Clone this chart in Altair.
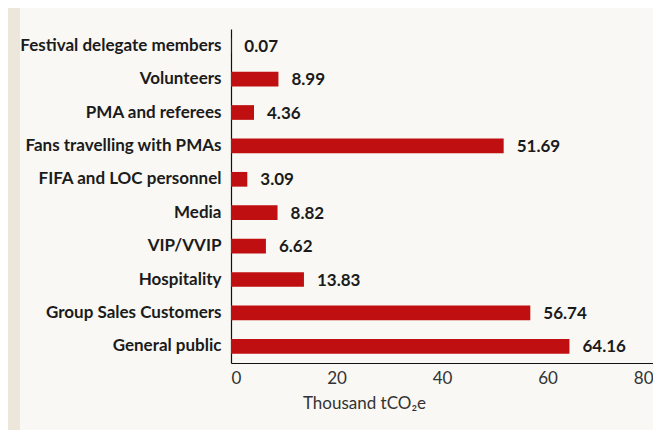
import altair as alt
import pandas as pd

categories = [
    "Festival delegate members",
    "Volunteers",
    "PMA and referees",
    "Fans travelling with PMAs",
    "FIFA and LOC personnel",
    "Media",
    "VIP/VVIP",
    "Hospitality",
    "Group Sales Customers",
    "General public",
]
values = [0.07, 8.99, 4.36, 51.69, 3.09, 8.82, 6.62, 13.83, 56.74, 64.16]
labels = [f"{v:.2f}" for v in values]
x_ticks = [0, 20, 40, 60, 80]

df = pd.DataFrame({"cat": categories, "val": values, "lab": labels})

FONT = "Lato"
RED = "#c00f10"
TXT = "#1b1b1b"

y_enc = alt.Y("cat:N", sort=categories, title=None,
              scale=alt.Scale(paddingInner=0.56, paddingOuter=0.28),
              axis=alt.Axis(labelFont=FONT, labelFontSize=17, labelFontWeight="bold",
                            labelColor=TXT, labelPadding=10, ticks=False,
                            domainColor="#111111", domainWidth=1.2, labelLimit=400))

bars = alt.Chart(df).mark_bar(color=RED).encode(
    x=alt.X("val:Q", scale=alt.Scale(domain=[0, 80], nice=False),
            title="Thousand tCO₂e",
            axis=alt.Axis(values=x_ticks, grid=False, ticks=False,
                          labelFont=FONT, labelFontSize=17, labelColor="#333333",
                          labelPadding=7, labelFlush=True,
                          domainColor="#111111", domainWidth=1.2,
                          titleFont=FONT, titleFontSize=17, titleFontWeight="normal",
                          titleColor="#333333", titleX=133, titleY=32,
                          titleAlign="center", titleBaseline="top")),
    y=y_enc,
)

text = alt.Chart(df).mark_text(align="left", baseline="middle", dx=13, dy=1,
                               font=FONT, fontSize=17, fontWeight="bold",
                               color=TXT).encode(
    x="val:Q", y=alt.Y("cat:N", sort=categories), text="lab:N"
)

strip = alt.Chart(pd.DataFrame({"a": [0]})).mark_rect(color="#ede6da").encode(
    x=alt.value(-223), x2=alt.value(-211), y=alt.value(-21), y2=alt.value(401)
)

chart = alt.layer(strip, bars, text).properties(
    width=422, height=334,
    autosize=alt.AutoSizeParams(type="none"),
    padding={"left": 223, "top": 21, "right": 0, "bottom": 67},
    background="#f9f8f4",
).configure_view(stroke=None)

chart.save("out.html", embed_options={"renderer": "svg", "actions": False})
